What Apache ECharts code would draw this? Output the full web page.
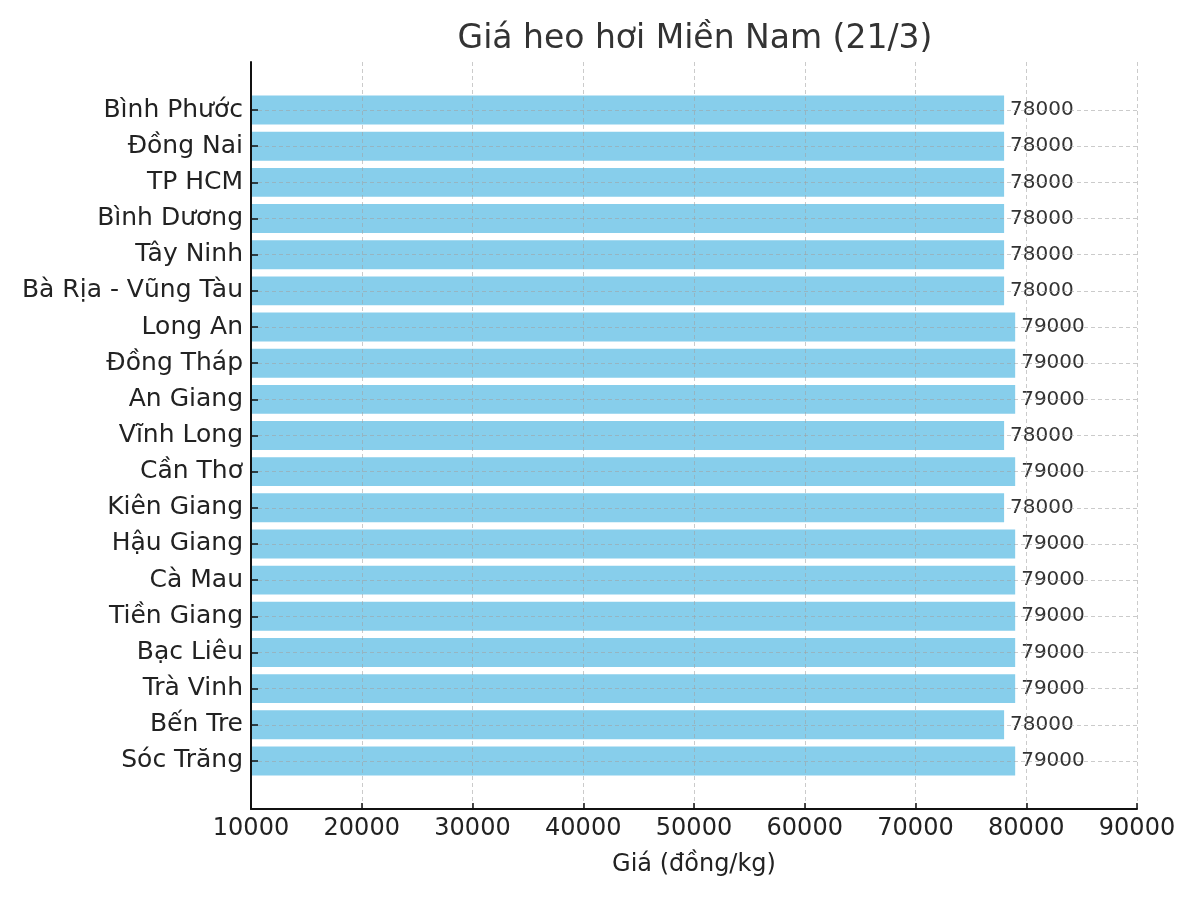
<!DOCTYPE html>
<html>
<head>
<meta charset="utf-8">
<script src="https://cdn.jsdelivr.net/npm/echarts@6/dist/echarts.min.js"></script>
<style>
  html, body { margin: 0; padding: 0; background: #fff; }
  #chart { width: 1200px; height: 900px; }
</style>
</head>
<body>
<div id="chart"></div>
<script>
// provinces, top to bottom
const provinces = [
  'Bình Phước', 'Đồng Nai', 'TP HCM', 'Bình Dương', 'Tây Ninh',
  'Bà Rịa - Vũng Tàu', 'Long An', 'Đồng Tháp', 'An Giang', 'Vĩnh Long',
  'Cần Thơ', 'Kiên Giang', 'Hậu Giang', 'Cà Mau', 'Tiền Giang',
  'Bạc Liêu', 'Trà Vinh', 'Bến Tre', 'Sóc Trăng',
]
const prices = [
  78000, 78000, 78000, 78000, 78000,
  78000, 79000, 79000, 79000, 78000,
  79000, 78000, 79000, 79000, 79000,
  79000, 79000, 78000, 79000,
]
const xMin = 10000
const xMax = 90000
const xStep = 10000

const font = 'DejaVu Sans'
const chart = echarts.init(document.getElementById('chart'), null, { renderer: 'canvas' })

const dashed = { color: 'rgba(160,160,160,0.55)', type: [4, 3], width: 1 }

const option = {
  animation: false,
  backgroundColor: '#fff',
  title: {
    text: 'Giá heo hơi Miền Nam (21/3)',
    left: 690,
    textAlign: 'center',
    top: 18,
    textStyle: { fontFamily: font, fontSize: 33, fontWeight: 'normal', color: '#333' },
  },
  grid: [
    // frame: spines, x ticks, vertical grid
    { left: 251, right: 63, top: 62, bottom: 91 },
    // bars, one band per province
    { left: 251, right: 63, top: 92, bottom: 121 },
  ],
  xAxis: [
    {
      gridIndex: 0,
      type: 'value',
      min: xMin,
      max: xMax,
      interval: xStep,
      z: 10,
      name: 'Giá (đồng/kg)',
      nameLocation: 'middle',
      nameGap: 44,
      nameTextStyle: { fontFamily: font, fontSize: 24, color: '#222' },
      axisLine: { show: true, lineStyle: { color: '#111', width: 2 } },
      axisTick: { show: true, inside: true, length: 6, lineStyle: { color: '#111', width: 1.5 } },
      axisLabel: {
        fontFamily: font, fontSize: 24, color: '#222', margin: 8,
        formatter: (v) => String(v),
      },
      splitLine: { show: true, lineStyle: dashed },
    },
    {
      gridIndex: 1,
      type: 'value',
      min: xMin,
      max: xMax,
      show: false,
      splitLine: { show: false },
    },
  ],
  yAxis: [
    {
      gridIndex: 0,
      type: 'value',
      z: 10,
      axisLine: { show: true, onZero: false, lineStyle: { color: '#111', width: 2 } },
      axisTick: { show: false },
      axisLabel: { show: false },
      splitLine: { show: false },
    },
    {
      gridIndex: 1,
      type: 'category',
      data: provinces,
      inverse: true,
      z: 10,
      axisLine: { show: false },
      axisTick: {
        show: true, inside: true, length: 7, alignWithLabel: true,
        lineStyle: { color: '#111', width: 1.5 },
      },
      axisLabel: { fontFamily: font, fontSize: 25, color: '#222', margin: 8, padding: [6, 0, 0, 0] },
      splitLine: { show: false },
    },
  ],
  series: [
    {
      type: 'bar',
      xAxisIndex: 1,
      yAxisIndex: 1,
      data: prices,
      barWidth: '80%',
      clip: true,
      itemStyle: { color: '#87ceeb' },
      label: {
        show: true,
        position: 'right',
        distance: 6,
        fontFamily: font,
        fontSize: 20,
        color: '#333',
      },
      markLine: {
        silent: true,
        symbol: 'none',
        label: { show: false },
        lineStyle: dashed,
        data: provinces.map((p) => ({ yAxis: p })),
      },
    },
  ],
}

chart.setOption(option)
</script>
</body>
</html>
